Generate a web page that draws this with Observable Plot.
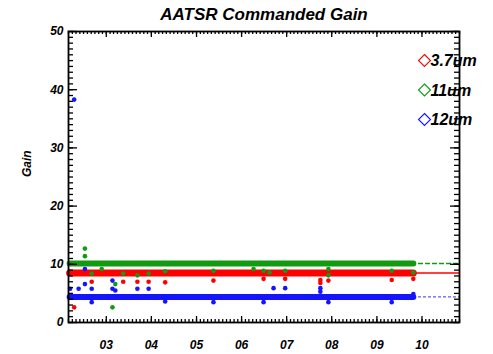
<!DOCTYPE html>
<html>
<head>
<meta charset="utf-8">
<script src="https://cdn.jsdelivr.net/npm/d3@7"></script>
<script src="https://cdn.jsdelivr.net/npm/@observablehq/plot@0.6"></script>
<style>
  body { margin: 0; background: #fff; }
</style>
</head>
<body>
<div id="chart"></div>
<script>
// AATSR commanded detector gain per channel, 2002-2009
const channels = ["3.7um", "11um", "12um"];
const channelColors = ["#ff0000", "#129a12", "#1414ff"];
const nominalGain = [8.5, 10.15, 4.4];
const coverage = ["2002-03-10", "2009-10-23"];
const timeDomain = ["2002-03-01", "2010-11-01"];
const gainTicks = [0, 10, 20, 30, 40, 50];

// Occasional departures from the nominal gain
const dates37 = ["2002-04-16", "2002-09-05", "2003-05-18", "2003-09-10", "2003-12-10", "2004-04-22",
  "2005-05-18", "2006-06-28", "2006-12-20", "2007-10-01", "2007-10-01", "2007-12-05", "2009-05-01", "2009-10-23"];
const gain37 = [2.6, 7.0, 7.0, 7.0, 7.0, 6.9, 7.2, 7.5, 7.5, 7.3, 6.8, 7.2, 7.3, 7.5];

const dates11 = ["2002-07-12", "2002-07-12", "2002-09-05", "2002-11-25", "2003-02-20", "2003-03-15",
  "2003-05-18", "2003-09-10", "2003-12-10", "2004-04-22", "2005-05-18", "2006-04-08", "2006-06-28",
  "2006-08-15", "2006-12-20", "2007-12-05", "2007-12-05", "2009-05-01", "2009-10-23"];
const gain11 = [12.7, 11.4, 8.4, 9.2, 2.6, 6.6, 8.4, 8.1, 8.4, 8.8, 8.9, 9.2, 8.9, 8.6, 8.9, 9.2, 8.1, 8.9, 8.6];

const dates12 = ["2002-04-16", "2002-03-14", "2002-05-22", "2002-07-12", "2002-07-12", "2002-09-05",
  "2002-09-05", "2003-02-20", "2003-02-20", "2003-03-15", "2003-09-10", "2003-12-10", "2004-04-22",
  "2005-05-18", "2006-06-28", "2006-09-17", "2006-12-20", "2007-10-01", "2007-10-01", "2007-12-05",
  "2009-05-01", "2009-10-23"];
const gain12 = [38.3, 5.8, 5.8, 6.6, 9.2, 5.8, 3.5, 7.2, 5.8, 5.5, 5.8, 5.8, 3.6, 3.5, 3.5, 5.9, 5.9,
  5.9, 5.3, 3.5, 3.5, 4.9];

const parse = (s) => new Date(s);
const outlierSets = [[dates37, gain37], [dates11, gain11], [dates12, gain12]];

const bands = channels.flatMap((c, i) =>
  coverage.map((d) => ({channel: c, date: parse(d), gain: nominalGain[i]})));
const outliers = outlierSets.flatMap(([ds, gs], i) =>
  ds.map((d, j) => ({channel: channels[i], date: parse(d), gain: gs[j]})));

const xDomain = timeDomain.map(parse);
const months = d3.utcMonth.range(xDomain[0], d3.utcDay.offset(xDomain[1], 1));
const years = d3.utcYear.range(xDomain[0], xDomain[1]);
const minorGain = d3.range(0, 51, 1);

const width = 493, height = 354;
const margin = {top: 31, right: 34, bottom: 32, left: 68};
const innerWidth = width - margin.left - margin.right;
const innerHeight = height - margin.top - margin.bottom;

const ink = "#000";
const dashes = ["none", "5,2", "3,2"];

// short ticks pointing into the plot from one side of the frame
const inwardTicks = (values, side, length) => {
  const style = {stroke: ink, strokeWidth: 1.3};
  if (side === "left") return Plot.tickY(values, {y: (d) => d, insetRight: innerWidth - length, ...style});
  if (side === "right") return Plot.tickY(values, {y: (d) => d, insetLeft: innerWidth - length, ...style});
  if (side === "top") return Plot.tickX(values, {x: (d) => d, insetBottom: innerHeight - length, ...style});
  return Plot.tickX(values, {x: (d) => d, insetTop: innerHeight - length, ...style});
};
const labelStyle = {tickSize: 0, fontSize: 12, fontWeight: "bold", fontStyle: "italic", fill: ink, stroke: "none", label: null};

const marks = [
  // nominal gain levels carried across the full time range
  ...channels.map((c, i) => Plot.ruleY([nominalGain[i]], {stroke: channelColors[i], strokeWidth: 1.4,
    strokeDasharray: dashes[i], strokeOpacity: i === 2 ? 0.7 : 1})),
  // dense daily samples at the nominal gain
  ...channels.map((c, i) => Plot.line(bands.filter((d) => d.channel === c), {
    x: "date", y: "gain", stroke: channelColors[i], strokeWidth: i === 0 ? 7 : 6, strokeLinecap: "round"
  })),
  ...channels.map((c, i) => Plot.dot(outliers.filter((d) => d.channel === c), {
    x: "date", y: "gain", r: 2.3, fill: channelColors[i], stroke: "none"
  })),
  // inward ticks on all four sides
  inwardTicks(minorGain, "left", 5),
  inwardTicks(gainTicks, "left", 9),
  inwardTicks(minorGain, "right", 5),
  inwardTicks(gainTicks, "right", 9),
  inwardTicks(months, "bottom", 3),
  inwardTicks(years, "bottom", 6),
  inwardTicks(months, "top", 3),
  inwardTicks(years, "top", 6),
  Plot.axisY(gainTicks, {anchor: "left", tickPadding: 5, ...labelStyle}),
  Plot.axisX(years, {anchor: "bottom", tickPadding: 18, tickFormat: d3.utcFormat("%y"), ...labelStyle}),
  Plot.frame({stroke: ink, strokeWidth: 1.8}),
  // titles
  Plot.text(["AATSR Commanded Gain"], {frameAnchor: "top", lineAnchor: "bottom", dy: -12,
    fontSize: 17, fontWeight: "bold", fontStyle: "italic", fill: ink}),
  Plot.text(["Gain"], {frameAnchor: "left", lineAnchor: "middle", rotate: -90, dx: -41, fontSize: 12,
    fontWeight: "bold", fontStyle: "italic", fill: ink}),
  // legend
  ...channels.map((c, i) => Plot.dot([c], {frameAnchor: "top-right", dx: -35, dy: 29 + 29.5 * i,
    symbol: "diamond2", r: 5.4, stroke: channelColors[i], strokeWidth: 1.1, fill: "none"})),
  ...channels.map((c, i) => Plot.text([c], {frameAnchor: "top-right", lineAnchor: "middle", dx: -29,
    dy: 29.5 + 29.5 * i, textAnchor: "start", fontSize: 16, fontWeight: "bold", fontStyle: "italic", fill: ink}))
];

const chart = Plot.plot({
  width, height,
  marginLeft: margin.left, marginRight: margin.right, marginTop: margin.top, marginBottom: margin.bottom,
  style: {fontFamily: "'Liberation Sans', Arial, sans-serif", background: "#fff", color: ink},
  x: {type: "utc", domain: xDomain},
  y: {domain: [0, 50]},
  marks
});
document.getElementById("chart").appendChild(chart);
</script>
</body>
</html>
